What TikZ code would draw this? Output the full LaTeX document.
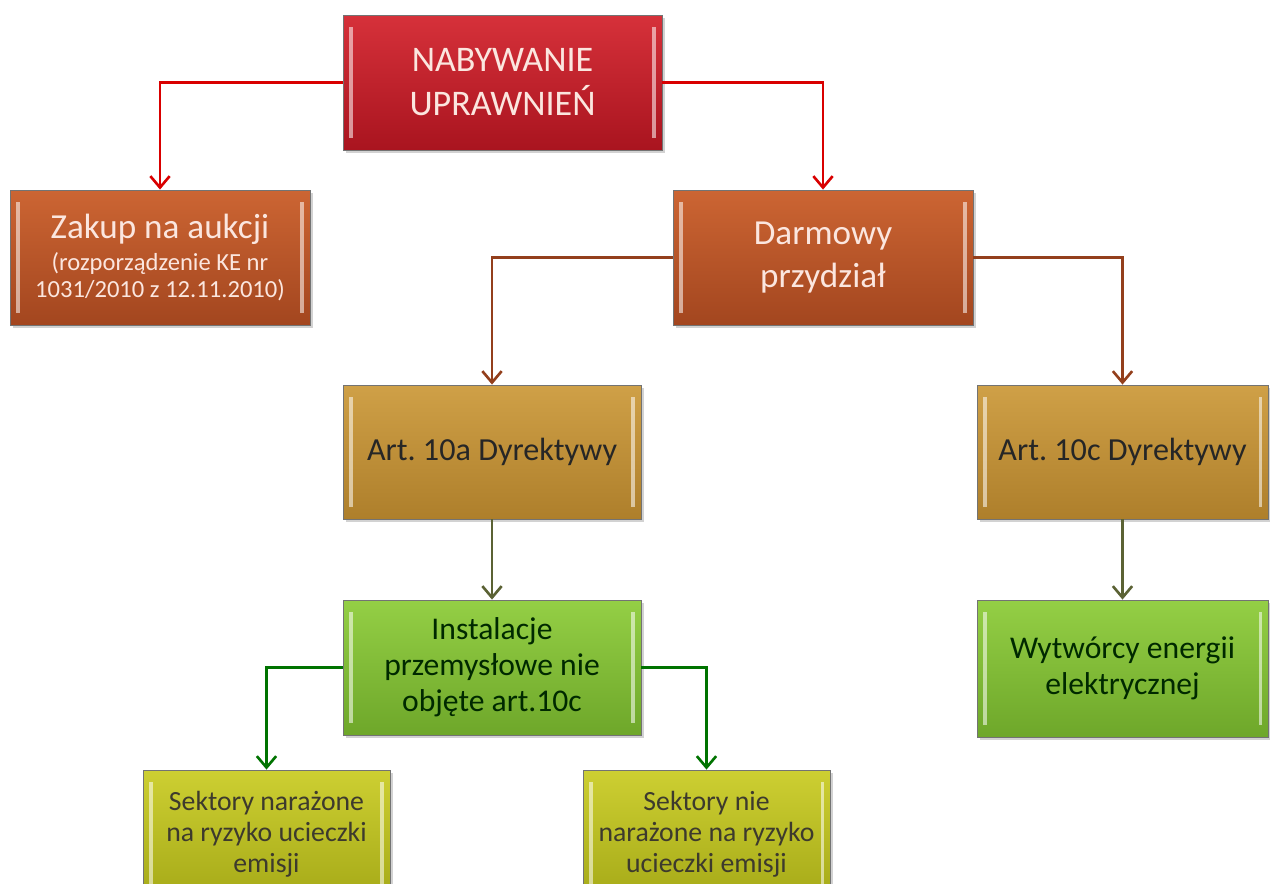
\documentclass[tikz,border=0pt]{standalone}
\usepackage{fontspec}
\setmainfont{Carlito}
\usetikzlibrary{arrows.meta,shadows}
\frenchspacing

\definecolor{rougeH}{HTML}{D6313A}\definecolor{rougeB}{HTML}{A9141F}
\definecolor{orangeH}{HTML}{CC6533}\definecolor{orangeB}{HTML}{A3461F}
\definecolor{orH}{HTML}{CFA047}\definecolor{orB}{HTML}{AE7F2B}
\definecolor{vertH}{HTML}{94CF45}\definecolor{vertB}{HTML}{6EA72A}
\definecolor{jauneH}{HTML}{CDCF32}\definecolor{jauneB}{HTML}{A6AA18}
\definecolor{txtClair}{HTML}{FBE6DF}

\tikzset{
  boite/.style={rectangle, draw=black!55, line width=0.5pt, align=flush center,
    minimum width=6cm, minimum height=2.7cm,
    drop shadow={shadow xshift=1.5pt,shadow yshift=-1.5pt,opacity=0.35},
    path picture={
      \draw[white,opacity=0.55,line width=1.8pt]
        ([xshift=4.5pt,yshift=-7pt]path picture bounding box.north west) --
        ([xshift=4.5pt,yshift=7pt]path picture bounding box.south west);
      \draw[white,opacity=0.55,line width=1.8pt]
        ([xshift=-4.5pt,yshift=-7pt]path picture bounding box.north east) --
        ([xshift=-4.5pt,yshift=7pt]path picture bounding box.south east);}},
  boiteRouge/.style={boite, top color=rougeH, bottom color=rougeB, text=txtClair,
    minimum width=6.38cm, text width=5.8cm, font=\fontsize{20.5}{25}\selectfont},
  boiteOrange/.style={boite, top color=orangeH, bottom color=orangeB, text=txtClair,
    text width=5.5cm, font=\fontsize{20}{24.5}\selectfont},
  boiteOr/.style={boite, top color=orH, bottom color=orB, text=black!85,
    minimum height=2.68cm, text width=5.3cm, font=\fontsize{18.3}{21}\selectfont},
  boiteVert/.style={boite, top color=vertH, bottom color=vertB, text=black!60!green!40!black,
    text width=5.3cm, font=\fontsize{18}{20.5}\selectfont},
  boiteJaune/.style={boite, top color=jauneH, bottom color=jauneB, text=black!75!olive,
    minimum width=4.94cm, minimum height=2.56cm, text width=4.5cm,
    font=\fontsize{15.8}{17.5}\selectfont},
  fleche/.style={line width=1.5pt, -{Straight Barb[length=6.5pt,width=11pt]}}
}

\begin{document}
\begin{tikzpicture}[x=0.02cm,y=-0.02cm]
  \clip (0,0) rectangle (1270,883);
  \fill[white] (0,0) rectangle (1270,883);

  % niveaux de l'arbre
  \node[boiteRouge] (nabywanie) at (502.5,82.5) {NABYWANIE\\UPRAWNIEŃ};
  \node[boiteOrange] (zakup) at (160,257.5)
    {Zakup na aukcji\par\vspace{3pt}{\fontsize{14}{15.5}\selectfont (rozporządzenie KE nr\\1031/2010 z 12.11.2010)\par}};
  \node[boiteOrange] (darmowy) at (823,257.5) {Darmowy\\przydział};
  \node[boiteOr, minimum width=5.96cm] (art10a) at (492,452) {Art. 10a Dyrektywy};
  \node[boiteOr, minimum width=5.82cm] (art10c) at (1122.5,452) {Art. 10c Dyrektywy};
  \node[boiteVert, minimum width=5.96cm] (instalacje) at (492,667.5)
    {Instalacje\\przemysłowe nie\\objęte art.10c};
  \node[boiteVert, minimum width=5.82cm, minimum height=2.74cm] (wytworcy) at (1122.5,668.5)
    {Wytwórcy energii\\elektrycznej};
  \node[boiteJaune] (narazone) at (266.5,834) {Sektory narażone\\na ryzyko ucieczki\\emisji};
  \node[boiteJaune] (nienarazone) at (706.5,834) {Sektory nie\\narażone na ryzyko\\ucieczki emisji};

  % connecteurs
  \draw[fleche, red!85!black] (nabywanie.west) -| (zakup.north);
  \draw[fleche, red!85!black] (nabywanie.east) -| (darmowy.north);
  \draw[fleche, orangeB!90!black] (darmowy.west) -| (art10a.north);
  \draw[fleche, orangeB!90!black] (darmowy.east) -| (art10c.north);
  \draw[fleche, olive!45!black!85!green] (art10a.south) -- (instalacje.north);
  \draw[fleche, olive!45!black!85!green] (art10c.south) -- (wytworcy.north);
  \draw[fleche, green!45!black] (instalacje.west) -| (narazone.north);
  \draw[fleche, green!45!black] (instalacje.east) -| (nienarazone.north);
\end{tikzpicture}
\end{document}
